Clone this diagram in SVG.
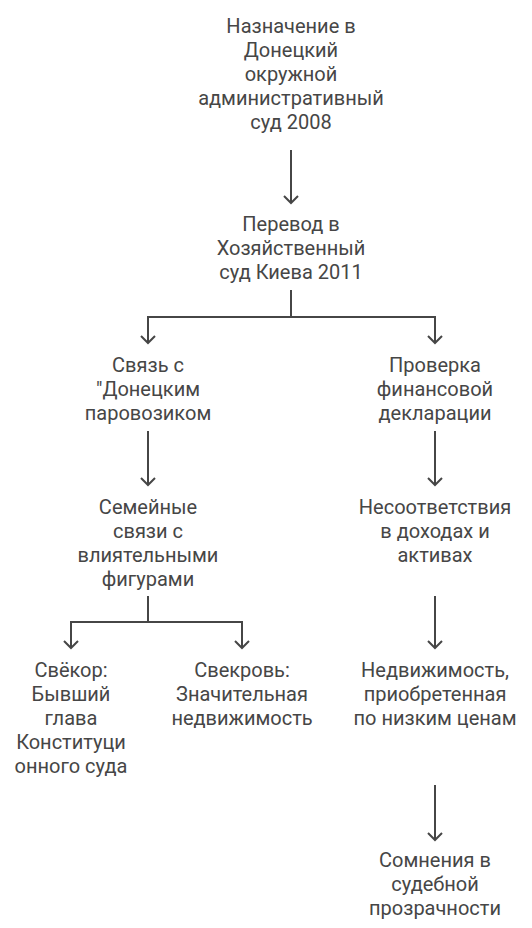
<svg xmlns="http://www.w3.org/2000/svg" width="532" height="928" viewBox="0 0 532 928">
<style>
text{font-family:Roboto,"Liberation Sans",sans-serif;font-size:20px;fill:#464646;text-anchor:middle}
.c{fill:none;stroke:#464646;stroke-width:2}
</style>
<defs>
<marker id="ah" markerWidth="10" markerHeight="16" refX="8.5" refY="8" orient="auto" markerUnits="userSpaceOnUse" viewBox="0 0 10 16">
<path d="M1.5,1 L8.5,8 L1.5,15" fill="none" stroke="#464646" stroke-width="2"/>
</marker>
</defs>
<rect width="532" height="928" fill="#ffffff"/>
<g id="connectors">
<path class="c" d="M291,150 V203" marker-end="url(#ah)"/>
<path class="c" d="M291,290 V317 H148 V343" marker-end="url(#ah)"/>
<path class="c" d="M291,317 H435 V343" marker-end="url(#ah)"/>
<path class="c" d="M148,431 V485" marker-end="url(#ah)"/>
<path class="c" d="M435,431 V485" marker-end="url(#ah)"/>
<path class="c" d="M148,596 V622 H71 V648" marker-end="url(#ah)"/>
<path class="c" d="M148,622 H242 V648" marker-end="url(#ah)"/>
<path class="c" d="M435,596 V648" marker-end="url(#ah)"/>
<path class="c" d="M435,785 V840" marker-end="url(#ah)"/>
</g>
<g id="n1"><text x="291" y="33">Назначение в</text><text x="291" y="57">Донецкий</text><text x="291" y="81">окружной</text><text x="291" y="105">административный</text><text x="291" y="129">суд 2008</text></g>
<g id="n2"><text x="291" y="231">Перевод в</text><text x="291" y="255">Хозяйственный</text><text x="291" y="279">суд Киева 2011</text></g>
<g id="n3"><text x="148" y="372">Связь с</text><text x="148" y="396">"Донецким</text><text x="148" y="420">паровозиком</text></g>
<g id="n4"><text x="435" y="372">Проверка</text><text x="435" y="396">финансовой</text><text x="435" y="420">декларации</text></g>
<g id="n5"><text x="148" y="514">Семейные</text><text x="148" y="538">связи с</text><text x="148" y="562">влиятельными</text><text x="148" y="586">фигурами</text></g>
<g id="n6"><text x="435" y="514">Несоответствия</text><text x="435" y="538">в доходах и</text><text x="435" y="562">активах</text></g>
<g id="n7"><text x="71" y="677">Свёкор:</text><text x="71" y="701">Бывший</text><text x="71" y="725">глава</text><text x="71" y="749">Конституци</text><text x="71" y="773">онного суда</text></g>
<g id="n8"><text x="242" y="677">Свекровь:</text><text x="242" y="701">Значительная</text><text x="242" y="725">недвижимость</text></g>
<g id="n9"><text x="435" y="677">Недвижимость,</text><text x="435" y="701">приобретенная</text><text x="435" y="725">по низким ценам</text></g>
<g id="n10"><text x="435" y="867">Сомнения в</text><text x="435" y="891">судебной</text><text x="435" y="915">прозрачности</text></g>
</svg>
